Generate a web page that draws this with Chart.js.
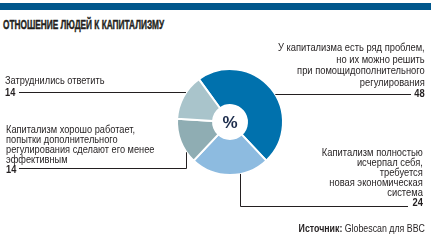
<!DOCTYPE html>
<html>
<head>
<meta charset="utf-8">
<script src="https://cdn.jsdelivr.net/npm/chart.js@4.4.1/dist/chart.umd.min.js"></script>
<style>
  html, body { margin: 0; padding: 0; background: #fff; }
  #wrap { position: relative; width: 431px; height: 240px; overflow: hidden;
    font-family: "Liberation Sans", Arial, sans-serif; color: #231f20; }
  #bar { position: absolute; left: 0; top: 3px; width: 431px; height: 7px; background: #00578c; }
  #title { position: absolute; left: 3px; top: 18px; font-size: 12px; font-weight: bold;
    -webkit-text-stroke: 0.4px #231f20;
    transform: scaleX(0.69); transform-origin: left top; white-space: nowrap; }
  .lbl { position: absolute; font-size: 11px; white-space: nowrap; }
  .lbl b { font-weight: bold; }
  .l { transform: scaleX(0.84); transform-origin: left top; }
  .r { text-align: right; transform: scaleX(0.85); transform-origin: right top; }
  #src { position: absolute; right: 6px; top: 222px; font-size: 11px; white-space: nowrap;
    transform: scaleX(0.8); transform-origin: right top; }
  canvas { position: absolute; left: 0; top: 0; }
</style>
</head>
<body>
<div id="wrap">
  <div id="bar"></div>
  <div id="title">ОТНОШЕНИЕ ЛЮДЕЙ К КАПИТАЛИЗМУ</div>
  <canvas id="chart" width="431" height="240"></canvas>
  <div id="labels"></div>
  <div id="src"><b>Источник:</b> Globescan для BBC</div>
</div>
<script>
const categories = [
  "У капитализма есть ряд проблем,\nно их можно решить\nпри помощидополнительного\nрегулирования",
  "Капитализм полностью\nисчерпал себя,\nтребуется\nновая экономическая\nсистема",
  "Капитализм хорошо работает,\nпопытки дополнительного\nрегулирования сделают его менее\nэффективным",
  "Затруднились ответить"
];
const values = [48, 24, 14, 14];
const colors = ["#0071ad", "#8dbbe0", "#8fadb3", "#a9c4cb"];

// where each label block sits (left or right aligned)
const labelPos = [
  { right: 6, top: 42, lh: 11.5, align: "r" },
  { right: 8, top: 148, lh: 9.9, align: "r" },
  { left: 6, top: 124, lh: 10, align: "l" },
  { left: 5, top: 74, lh: 12, align: "l" }
];

const labelsDiv = document.getElementById("labels");
categories.forEach((cat, i) => {
  const d = document.createElement("div");
  const p = labelPos[i];
  d.className = "lbl " + p.align;
  if (p.left !== undefined) d.style.left = p.left + "px";
  if (p.right !== undefined) d.style.right = p.right + "px";
  d.style.top = p.top + "px";
  d.style.lineHeight = p.lh + "px";
  d.innerHTML = cat.split("\n").join("<br>") + "<br><b>" + values[i] + "</b>";
  labelsDiv.appendChild(d);
});

const leaderLines = {
  id: "leaderLines",
  afterDraw(chart) {
    const ctx = chart.ctx;
    const arcs = chart.getDatasetMeta(0).data;
    const cx = arcs[0].x, cy = arcs[0].y, r = arcs[0].outerRadius;
    const edgeX = (y, side) => cx + side * Math.sqrt(r * r - (y - cy) * (y - cy));
    const edgeY = (x) => cy + Math.sqrt(r * r - (x - cx) * (x - cx));
    ctx.save();
    ctx.strokeStyle = "#231f20";
    ctx.lineWidth = 1;
    ctx.beginPath();
    // 48
    ctx.moveTo(edgeX(94.5, 1), 94.5); ctx.lineTo(411, 94.5);
    // Затруднились
    ctx.moveTo(19, 92.5); ctx.lineTo(edgeX(92.5, -1), 92.5);
    // хорошо работает
    const x3 = cx - 43.5;
    ctx.moveTo(19, 168.5); ctx.lineTo(x3, 168.5); ctx.lineTo(x3, edgeY(x3));
    // 24
    const x4 = cx + 10.5;
    ctx.moveTo(x4, edgeY(x4)); ctx.lineTo(x4, 206.5); ctx.lineTo(408, 206.5);
    ctx.stroke();
    // centre sign
    ctx.fillStyle = "#1c2c4c";
    ctx.font = "bold 17px 'Liberation Sans', sans-serif";
    ctx.textAlign = "center";
    ctx.textBaseline = "middle";
    ctx.fillText("%", cx, cy + 1);
    ctx.restore();
  }
};

new Chart(document.getElementById("chart"), {
  type: "doughnut",
  data: {
    labels: categories,
    datasets: [{
      data: values,
      backgroundColor: colors,
      borderColor: "#fff",
      borderWidth: 2,
      hoverOffset: 0
    }]
  },
  options: {
    responsive: false,
    animation: false,
    rotation: -36,
    cutout: "32%",
    layout: { padding: { left: 176, right: 147, top: 68, bottom: 64 } },
    plugins: { legend: { display: false }, tooltip: { enabled: false } }
  },
  plugins: [leaderLines]
});
</script>
</body>
</html>
